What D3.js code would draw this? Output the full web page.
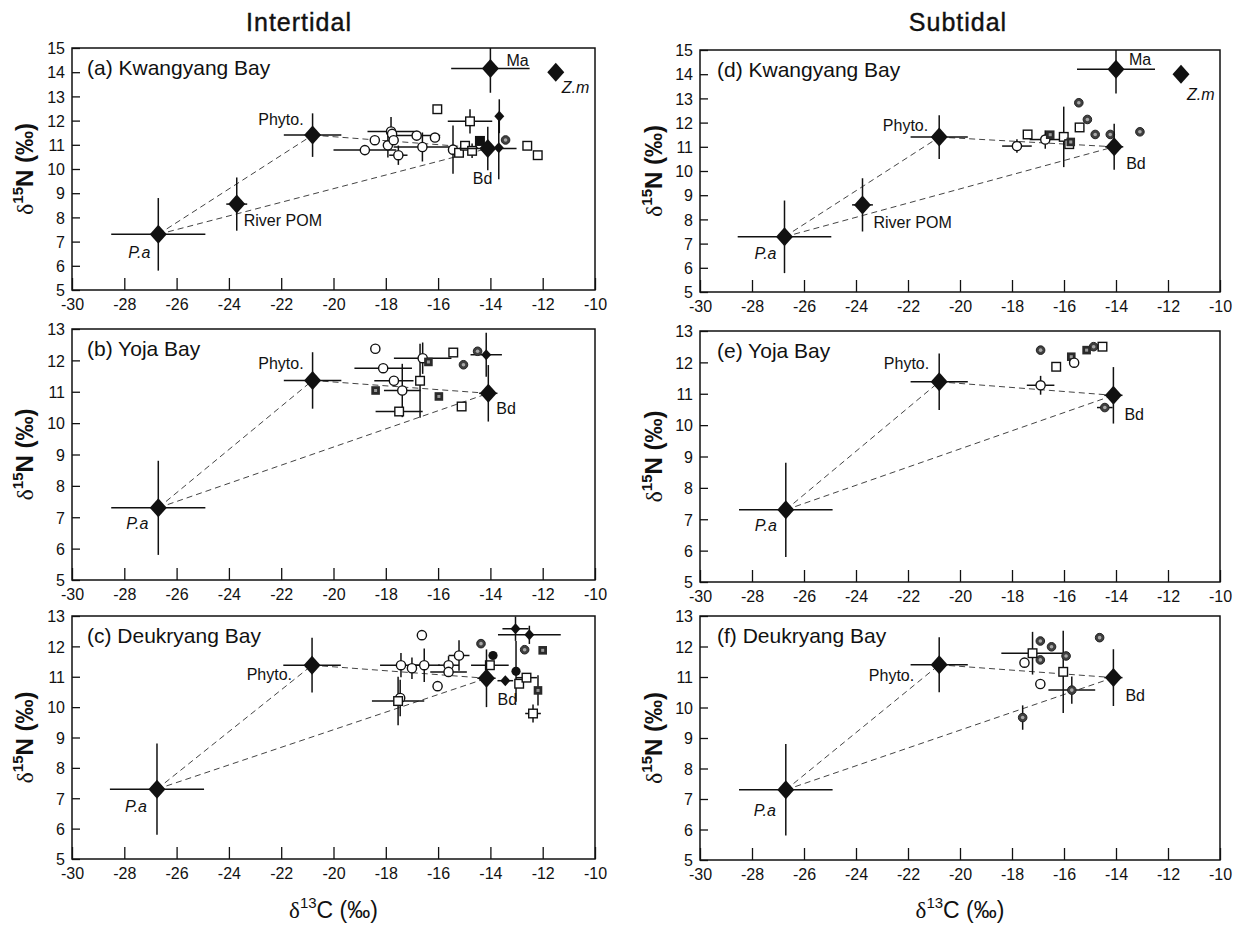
<!DOCTYPE html>
<html><head><meta charset="utf-8">
<script src="https://cdn.jsdelivr.net/npm/d3@7"></script>
<style>
body{margin:0;background:#fff}
svg text{font-family:"Liberation Sans",Arial,sans-serif;fill:#111}
</style>
</head><body><svg id="c" width="1240" height="925"></svg>
<script>
// ---------- DATA ----------
const xTicks = [-30,-28,-26,-24,-22,-20,-18,-16,-14,-12,-10];
const yTicksTall = [5,6,7,8,9,10,11,12,13,14,15];
const yTicksShort = [5,6,7,8,9,10,11,12,13];
const columnTitles = ["Intertidal","Subtidal"];
const panelTitles = ["(a) Kwangyang Bay","(b) Yoja Bay","(c) Deukryang Bay","(d) Kwangyang Bay","(e) Yoja Bay","(f) Deukryang Bay"];

// sources: [name, d13C, d15N, xErr, yErr]
const sourcesA = [["P.a",-26.7,7.3,1.8,1.5],["River POM",-23.7,8.55,0.4,1.1],["Phyto.",-20.8,11.4,1.1,0.9],["Bd",-14.1,10.85,1.1,0.9],["Ma",-14.0,14.15,1.5,1.0],["Z.m",-11.5,14.0,0,0]];
const sourcesD = [["P.a",-26.75,7.28,1.8,1.5],["River POM",-23.75,8.6,0.4,1.1],["Phyto.",-20.8,11.4,1.1,0.9],["Bd",-14.07,11.0,0.35,0.95],["Ma",-14.0,14.2,1.5,1.0],["Z.m",-11.5,14.0,0,0]];
const sourcesB = [["P.a",-26.7,7.3,1.8,1.5],["Phyto.",-20.8,11.36,1.1,0.9],["Bd",-14.08,10.95,0.35,0.9]];
const sourcesE = [["P.a",-26.7,7.3,1.8,1.5],["Phyto.",-20.8,11.38,1.1,0.9],["Bd",-14.1,10.95,0.35,0.9]];
const sourcesC = [["P.a",-26.75,7.3,1.8,1.5],["Phyto.",-20.82,11.38,1.1,0.9],["Bd",-14.15,10.95,0.35,0.95]];
const sourcesF = [["P.a",-26.7,7.3,1.8,1.5],["Phyto.",-20.8,11.4,1.1,0.9],["Bd",-14.1,10.98,0.35,0.93]];

// consumers: [marker, d13C, d15N, xErr, yErr]
// o open circle, s open square, c shaded circle, q shaded square, f black square, d small black diamond, k black circle
const consumersA = [
 ["o",-18.8,10.78,1.2,0],["o",-18.42,11.19,0,0],["o",-17.8,11.55,0.9,0.6],["o",-17.76,11.45,0,0],
 ["o",-17.92,10.98,0,0.5],["o",-17.7,11.19,0,0],["o",-17.52,10.57,0.35,0.4],["o",-16.82,11.38,0.9,0],
 ["o",-16.6,10.91,1.1,0.6],["o",-16.12,11.3,0,0],["o",-15.43,10.8,0,1.0],
 ["s",-16.03,12.47,0,0],["s",-14.78,11.97,0.85,0.5],["s",-15.2,10.67,0,0],["s",-14.97,10.96,0,0],
 ["s",-14.7,10.75,0,0.3],["s",-12.59,10.96,0,0],["s",-12.19,10.57,0,0],
 ["f",-14.4,11.16,0,0],["d",-13.66,12.18,0,0.7],["d",-13.68,10.88,0,1.3],["c",-13.42,11.2,0,0]
];
const consumersD = [
 ["o",-17.81,11.03,0.57,0.28],["o",-16.72,11.3,0.6,0.38],
 ["s",-17.4,11.51,0,0],["s",-16.01,11.41,0,1.25],["s",-15.4,11.8,0,0],["s",-15.8,11.11,0,0],
 ["q",-16.53,11.5,0,0],["q",-15.74,11.2,0,0],
 ["c",-15.43,12.82,0,0],["c",-15.1,12.13,0,0],["c",-14.8,11.51,0,0],["c",-14.22,11.51,0,0],["c",-13.08,11.62,0,0]
];
const consumersB = [
 ["o",-18.4,12.37,0,0],["o",-18.1,11.75,1.1,0],["o",-17.69,11.35,0.75,0],["o",-17.37,11.04,0.7,0.85],["o",-16.59,12.07,1.1,0.5],
 ["s",-15.42,12.25,0,0],["s",-16.69,11.35,0,1.18],["s",-17.49,10.37,0.9,0],["s",-15.1,10.53,0,0],
 ["q",-18.39,11.04,0,0],["q",-16.37,11.95,0,0],["q",-15.97,10.85,0,0],
 ["c",-15.03,11.86,0,0],["c",-14.49,12.29,0,0],["d",-14.16,12.18,0.6,0.7]
];
const consumersE = [
 ["c",-16.9,12.39,0,0],["c",-14.86,12.5,0,0],["c",-14.43,10.56,0.3,0],
 ["s",-16.3,11.86,0,0],["s",-14.52,12.5,0,0],
 ["q",-15.72,12.18,0,0],["q",-15.13,12.39,0,0],
 ["o",-15.61,11.99,0,0],["o",-16.9,11.27,0.53,0.3]
];
const consumersC = [
 ["o",-16.62,12.37,0,0],["o",-17.42,11.38,0.8,0.4],["o",-17.0,11.28,0,0.35],["o",-16.53,11.38,0.6,0.55],
 ["o",-15.6,11.38,0.4,0.3],["o",-15.2,11.7,0.4,0.5],["o",-15.6,11.16,0.7,0],["o",-16.02,10.69,0,0],["o",-17.45,10.3,0,0.6],
 ["s",-17.53,10.2,1.0,0.8],["s",-14.02,11.38,0.72,0],["s",-12.9,10.77,0,0],["s",-12.62,10.97,0.4,0],["s",-12.37,9.79,0.3,0.3],
 ["k",-13.9,11.7,0,0],["k",-13.02,11.18,0,1.0],["c",-14.36,12.09,0,0],["c",-12.69,11.89,0,0],
 ["d",-13.04,12.58,0.5,0.4],["d",-12.51,12.38,1.2,0.3],["d",-13.43,10.87,0.3,0],
 ["q",-12.0,11.87,0,0],["q",-12.18,10.55,0,0.5]
];
const consumersF = [
 ["c",-16.91,12.18,0,0],["c",-16.48,11.99,0,0],["c",-16.91,11.56,0,0],["c",-15.92,11.69,0,0],["c",-14.63,12.29,0,0],
 ["c",-15.7,10.57,0.9,0.45],["c",-17.59,9.67,0,0.4],
 ["s",-17.21,11.78,1.2,0.7],["s",-16.03,11.17,0,1.35],
 ["o",-17.52,11.47,0,0],["o",-16.91,10.77,0,0]
];

// ---------- LAYOUT ----------
const svg = d3.select("#c");
const colX = [[72,595],[700,1220]];
const rowY = [[[48,290],[329,580],[616,859]],[[50,292],[331,582],[616,860]]];
const labelPos = [
 {"P.a":[-8,24,"end"],"River POM":[7,22,"start"],"Phyto.":[-9,-10,"end"],"Bd":[-15,36,"start"],"Ma":[16,-3,"start"],"Z.m":[6,21,"start"]},
 {"P.a":[-10,21,"end"],"Phyto.":[-9,-11,"end"],"Bd":[8,21,"start"]},
 {"P.a":[-10,23,"end"],"Phyto.":[-20,15,"end"],"Bd":[11,27,"start"]},
 {"P.a":[-8,22,"end"],"River POM":[11,23,"start"],"Phyto.":[-11,-6,"end"],"Bd":[12,22,"start"],"Ma":[13,-4,"start"],"Z.m":[6,26,"start"]},
 {"P.a":[-9,21,"end"],"Phyto.":[-10,-13,"end"],"Bd":[11,25,"start"]},
 {"P.a":[-10,26,"end"],"Phyto.":[-25,16,"end"],"Bd":[12,23,"start"]}
];
const panels = [
 {col:0,row:0,ymax:15,src:sourcesA,con:consumersA},
 {col:0,row:1,ymax:13,src:sourcesB,con:consumersB},
 {col:0,row:2,ymax:13,src:sourcesC,con:consumersC},
 {col:1,row:0,ymax:15,src:sourcesD,con:consumersD},
 {col:1,row:1,ymax:13,src:sourcesE,con:consumersE},
 {col:1,row:2,ymax:13,src:sourcesF,con:consumersF}
];

function deltaLabel(sel, iso, el, bold){
  sel.append("tspan").attr("font-family","Liberation Serif, serif").attr("font-weight","normal").text("δ");
  sel.append("tspan").attr("dy",-10).attr("font-size",15).attr("font-weight",bold?"bold":"normal").text(iso);
  sel.append("tspan").attr("dy",10).attr("font-weight",bold?"bold":"normal").text(el+" (‰)");
}

// column titles
[299,958].forEach((cx,i)=>{
  svg.append("text").attr("x",cx).attr("y",31).attr("text-anchor","middle")
    .attr("font-size",25).attr("letter-spacing","1px").attr("stroke","#111").attr("stroke-width",0.4).text(columnTitles[i]);
});

panels.forEach((p,pi)=>{
  const [x0,x1] = colX[p.col];
  const [y0,y1] = rowY[p.col][p.row];
  const x = d3.scaleLinear().domain([-30,-10]).range([x0,x1]);
  const y = d3.scaleLinear().domain([5,p.ymax]).range([y1,y0]);
  const g = svg.append("g");
  const cid = "clip"+pi;
  svg.append("clipPath").attr("id",cid).append("rect").attr("x",x0).attr("y",y0).attr("width",x1-x0).attr("height",y1-y0);

  // axes (inward ticks)
  const ax = g.append("g").attr("transform",`translate(0,${y1})`)
    .call(d3.axisBottom(x).tickValues(xTicks).tickSize(-12).tickPadding(9).tickFormat(d=>String(d)));
  const ay = g.append("g").attr("transform",`translate(${x0},0)`)
    .call(d3.axisLeft(y).tickValues(p.ymax===15?yTicksTall:yTicksShort).tickSize(-8).tickPadding(7).tickFormat(d=>String(d)));
  [ax,ay].forEach(a=>{
    a.select(".domain").remove();
    a.selectAll("line").attr("stroke","#111").attr("stroke-width",1.3);
    a.selectAll("text").attr("font-size",16).attr("fill","#111").attr("font-family","Liberation Sans, Arial, sans-serif");
  });
  ay.selectAll("text").attr("dy","0.36em");

  // frame
  g.append("rect").attr("x",x0).attr("y",y0).attr("width",x1-x0).attr("height",y1-y0)
    .attr("fill","none").attr("stroke","#111").attr("stroke-width",1.5);

  // panel title
  g.append("text").attr("x",x0+(p.col?17:15)).attr("y",y0+27).attr("font-size",21).text(panelTitles[pi]);

  // y-axis title
  const ylx = p.col? 654 : 25, yly = (y0+y1)/2;
  const yt = g.append("text").attr("transform",`translate(${ylx},${yly}) rotate(-90)`)
    .attr("text-anchor","middle").attr("dy","0.35em").attr("font-size",24).attr("font-weight","bold");
  deltaLabel(yt,"15","N",true);

  const pg = g.append("g").attr("clip-path",`url(#${cid})`);
  const src = {}; p.src.forEach(s=>src[s[0]]=s);

  // mixing lines
  const tri = [["P.a","Phyto."],["P.a","Bd"],["Phyto.","Bd"]];
  tri.forEach(([a,b])=>{
    pg.append("line").attr("x1",x(src[a][1])).attr("y1",y(src[a][2])).attr("x2",x(src[b][1])).attr("y2",y(src[b][2]))
      .attr("stroke","#444").attr("stroke-width",1).attr("stroke-dasharray","6,4");
  });

  // consumer error bars
  p.con.forEach(c=>{
    if(c[3]>0) pg.append("line").attr("x1",x(c[1]-c[3])).attr("x2",x(c[1]+c[3])).attr("y1",y(c[2])).attr("y2",y(c[2])).attr("stroke","#111").attr("stroke-width",1.5);
    if(c[4]>0) pg.append("line").attr("x1",x(c[1])).attr("x2",x(c[1])).attr("y1",y(c[2]-c[4])).attr("y2",y(c[2]+c[4])).attr("stroke","#111").attr("stroke-width",1.5);
  });
  // consumer markers
  p.con.forEach(c=>{
    const cx=x(c[1]), cy=y(c[2]), t=c[0];
    if(t==="o") pg.append("circle").attr("cx",cx).attr("cy",cy).attr("r",4.6).attr("fill","#fff").attr("stroke","#111").attr("stroke-width",1.4);
    else if(t==="s") pg.append("rect").attr("x",cx-4.3).attr("y",cy-4.3).attr("width",8.6).attr("height",8.6).attr("fill","#fff").attr("stroke","#111").attr("stroke-width",1.4);
    else if(t==="c"){ pg.append("circle").attr("cx",cx).attr("cy",cy).attr("r",4.3).attr("fill","#404040").attr("stroke","#222").attr("stroke-width",1);
      pg.append("circle").attr("cx",cx).attr("cy",cy).attr("r",1.8).attr("fill","#a8a8a8"); }
    else if(t==="q"){ pg.append("rect").attr("x",cx-4.3).attr("y",cy-4.3).attr("width",8.6).attr("height",8.6).attr("fill","#2a2a2a");
      pg.append("rect").attr("x",cx-1.5).attr("y",cy-1.5).attr("width",3).attr("height",3).attr("fill","#9a9a9a"); }
    else if(t==="f") pg.append("rect").attr("x",cx-5).attr("y",cy-5).attr("width",10).attr("height",10).attr("fill","#111");
    else if(t==="d") pg.append("path").attr("d",`M${cx},${cy-5.5}L${cx+5},${cy}L${cx},${cy+5.5}L${cx-5},${cy}Z`).attr("fill","#111");
    else if(t==="k") pg.append("circle").attr("cx",cx).attr("cy",cy).attr("r",4.6).attr("fill","#111");
  });

  // source error bars and diamonds
  p.src.forEach(s=>{
    if(s[3]>0) pg.append("line").attr("x1",x(s[1]-s[3])).attr("x2",x(s[1]+s[3])).attr("y1",y(s[2])).attr("y2",y(s[2])).attr("stroke","#111").attr("stroke-width",1.5);
    if(s[4]>0) pg.append("line").attr("x1",x(s[1])).attr("x2",x(s[1])).attr("y1",y(s[2]-s[4])).attr("y2",y(s[2]+s[4])).attr("stroke","#111").attr("stroke-width",1.5);
  });
  p.src.forEach(s=>{
    const cx=x(s[1]), cy=y(s[2]);
    pg.append("path").attr("d",`M${cx},${cy-9.5}L${cx+8.5},${cy}L${cx},${cy+9.5}L${cx-8.5},${cy}Z`).attr("fill","#111");
    const lp = labelPos[pi][s[0]];
    if(lp){
      const it = (s[0]==="P.a"||s[0]==="Z.m");
      g.append("text").attr("x",cx+lp[0]).attr("y",cy+lp[1]).attr("text-anchor",lp[2])
        .attr("font-size",16).attr("font-style",it?"italic":"normal").text(s[0]);
    }
  });

  // x-axis title under bottom row
  if(p.row===2){
    const xt = g.append("text").attr("x",(x0+x1)/2).attr("y",918).attr("text-anchor","middle").attr("font-size",23);
    deltaLabel(xt,"13","C",false);
  }
});
</script>
</body></html>
